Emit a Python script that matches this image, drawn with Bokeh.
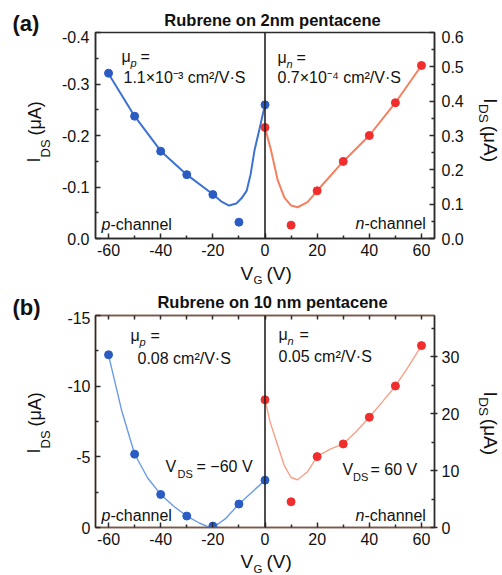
import math
from bokeh.plotting import figure
from bokeh.models import Range1d, LinearAxis, FixedTicker, PrintfTickFormatter, Label, Span
from bokeh.layouts import column, row
from bokeh.embed import file_html
from bokeh.resources import INLINE

# ---------------- data ----------------
vg_p = [-60, -50, -40, -30, -20, -10, 0]
vg_n = [0, 10, 20, 30, 40, 50, 60]

# panel (a): Rubrene on 2nm pentacene (uA)
a_ids_p = [-0.321, -0.2375, -0.1695, -0.124, -0.0854, -0.0317, -0.2596]
a_ids_n = [0.3236, 0.0389, 0.139, 0.2245, 0.300, 0.3955, 0.504]
a_fit_p_x = [-60, -50, -40, -30, -20, -16.5, -13.8, -11, -9, -7, -5.5, -4, -2, 0]
a_fit_p_y = [-0.32, -0.2375, -0.17, -0.124, -0.086, -0.071, -0.064, -0.068, -0.078, -0.093, -0.125, -0.172, -0.215, -0.26]
a_fit_n_x = [0, 2.3, 4.9, 7.4, 10, 12.5, 16.3, 20, 30, 40, 50, 60]
a_fit_n_y = [0.3236, 0.257, 0.169, 0.12, 0.096, 0.091, 0.106, 0.139, 0.2245, 0.300, 0.3955, 0.504]

# panel (b): Rubrene on 10 nm pentacene (uA)
b_ids_p = [-12.22, -5.19, -2.34, -0.81, -0.10, -1.66, -3.35]
b_ids_n = [22.47, 4.53, 12.47, 14.7, 19.4, 24.9, 32.0]
b_fit_p_x = [-60, -55, -50, -45, -40, -35, -30, -25, -21.5, -18, -15, -10, -5, 0]
b_fit_p_y = [-12.2, -8.3, -5.2, -3.5, -2.34, -1.5, -0.81, -0.3, -0.02, -0.25, -0.65, -1.66, -2.5, -3.35]
b_fit_n_x = [0, 2, 4.2, 7.4, 10, 12.5, 16.3, 20, 25, 30, 35, 40, 45, 50, 55, 60]
b_fit_n_y = [22.5, 18.5, 15.4, 10.9, 8.8, 8.4, 9.8, 12.5, 13.8, 14.7, 16.9, 19.4, 22.1, 24.9, 28.3, 32.0]

x_ticks = [-60, -40, -20, 0, 20, 40, 60]
x_minor = [-50, -30, -10, 10, 30, 50]
a_left_ticks = [-0.4, -0.3, -0.2, -0.1, 0.0]
a_left_minor = [-0.35, -0.25, -0.15, -0.05]
a_right_ticks = [0.0, 0.1, 0.2, 0.3, 0.4, 0.5, 0.6]
a_right_minor = [0.05, 0.15, 0.25, 0.35, 0.45, 0.55]
b_left_ticks = [-15, -10, -5, 0]
b_left_minor = [-12.5, -7.5, -2.5]
b_right_ticks = [0, 10, 20, 30]
b_right_minor = [5, 15, 25, 35]

FONT = "Liberation Sans"
DARK = "#2b2b2b"
TXT = "#111111"
BROWN = "#7a5844"
BLUE_DOT = "#2a5cc4"
RED_DOT = "#f22d2d"
SHIFT = 0.36  # em; correction so that (px, py) is the text baseline


def style_axis(ax, ticks, minor, fmt, tin=5, tout=0, standoff=6, color=DARK):
    ax.ticker = FixedTicker(ticks=ticks, minor_ticks=minor)
    ax.formatter = PrintfTickFormatter(format=fmt)
    ax.axis_line_color = color
    ax.axis_line_width = 1.5
    ax.major_tick_line_color = DARK
    ax.major_tick_line_width = 1.5
    ax.minor_tick_line_color = DARK
    ax.minor_tick_line_width = 1.5
    ax.major_tick_in = tin
    ax.major_tick_out = tout
    ax.minor_tick_in = 3
    ax.minor_tick_out = 0
    ax.major_label_text_font = FONT
    ax.major_label_text_font_size = "16px"
    ax.major_label_text_color = TXT
    ax.major_label_standoff = standoff


def main_fig(height, top, bottom):
    p = figure(width=415, height=height, output_backend="svg", toolbar_location=None,
               min_border_left=40, min_border_right=36, min_border_top=top, min_border_bottom=bottom)
    p.xgrid.visible = False
    p.ygrid.visible = False
    p.outline_line_color = DARK
    p.outline_line_width = 1.5
    return p


def text_fig(x0, y0, w, h):
    # a plain text strip; its data coordinates are the page pixels
    f = figure(width=w, height=h, x_range=Range1d(x0, x0 + w), y_range=Range1d(y0 + h, y0),
               output_backend="svg", toolbar_location=None, min_border=0,
               x_axis_location=None, y_axis_location=None)
    f.xgrid.visible = False
    f.ygrid.visible = False
    f.outline_line_color = None
    return f


def tlab(f, s, px, py, size=16, style="normal", align="left", angle=0.0):
    d = SHIFT * size
    px = px - d * math.sin(angle)
    py = py - d * math.cos(angle)
    f.add_layout(Label(x=px, y=py, text=s, text_font=FONT, text_font_size=f"{size}px",
                       text_font_style=style, text_align=align, text_baseline="alphabetic",
                       angle=angle, text_color=TXT))


def flab(p, s, px, py, fx0, fy1, size=16, style="normal", align="left"):
    py = py - SHIFT * size
    p.add_layout(Label(x=px - fx0, y=fy1 - py, x_units="screen", y_units="screen", text=s,
                       text_font=FONT, text_font_size=f"{size}px", text_font_style=style,
                       text_align=align, text_baseline="alphabetic", text_color=TXT))


def ylabel_left(f, y_i):
    tlab(f, "I", 40, y_i, size=18, angle=math.pi / 2)
    tlab(f, "DS", 50, y_i - 5, size=13, angle=math.pi / 2)
    tlab(f, "(\u03bcA)", 41, y_i - 27, size=18, angle=math.pi / 2)


def ylabel_right(f, y_i):
    tlab(f, "I", 483, y_i, size=19, angle=-math.pi / 2)
    tlab(f, "DS", 478.5, y_i + 6.5, size=13.5, angle=-math.pi / 2)
    tlab(f, "(\u03bcA)", 483, y_i + 31, size=19, angle=-math.pi / 2)


def xlabel(f, y_base):
    tlab(f, "V", 240, y_base, size=19)
    tlab(f, "G", 253, y_base + 4.5, size=11.5)
    tlab(f, "(V)", 266, y_base, size=19)


# ---------------- panel (a) ----------------
pa = main_fig(232, 2, 24)
pa.x_range = Range1d(-65, 65)
pa.y_range = Range1d(0, -0.4)
pa.extra_y_ranges = {"right": Range1d(0, 0.6)}
style_axis(pa.xaxis[0], x_ticks, x_minor, "%d", standoff=5)
style_axis(pa.yaxis[0], a_left_ticks, a_left_minor, "%.1f", standoff=6)
ra = LinearAxis(y_range_name="right")
style_axis(ra, a_right_ticks, a_right_minor, "%.1f", standoff=7)
pa.add_layout(ra, "right")

pa.add_layout(Span(location=0, dimension="height", line_color="#222222", line_width=1.6))
pa.line(a_fit_p_x, a_fit_p_y, line_color="#3d72d2", line_width=2)
pa.line(a_fit_n_x, a_fit_n_y, line_color="#f5805f", line_width=2, y_range_name="right")
pa.scatter(vg_p, a_ids_p, size=8, fill_color=BLUE_DOT, line_color=BLUE_DOT)
pa.scatter(vg_n, a_ids_n, size=8, fill_color=RED_DOT, line_color=RED_DOT, y_range_name="right")

ax0, ay1 = 95, 238
flab(pa, "\u03bc", 121, 62, ax0, ay1)
flab(pa, "p", 130, 66, ax0, ay1, size=11, style="italic")
flab(pa, "=", 140, 62, ax0, ay1)
flab(pa, "1.1\u00d710\u207b\u00b3 cm\u00b2/V\u00b7S", 123, 83, ax0, ay1)
flab(pa, "\u03bc", 277, 63, ax0, ay1)
flab(pa, "n", 286, 67, ax0, ay1, size=11, style="italic")
flab(pa, "=", 296, 63, ax0, ay1)
flab(pa, "0.7\u00d710\u207b\u2074 cm\u00b2/V\u00b7S", 277, 83, ax0, ay1)
flab(pa, "p", 101, 230, ax0, ay1, style="italic")
flab(pa, "-channel", 110, 230, ax0, ay1)
flab(pa, "n", 355, 229, ax0, ay1, style="italic")
flab(pa, "-channel", 364, 229, ax0, ay1)

left_a = text_fig(0, 0, 55, 290)
tlab(left_a, "(a)", 12, 31, size=22, style="bold")
ylabel_left(left_a, 162)
head_a = text_fig(55, 0, 447, 30)
tlab(head_a, "Rubrene on 2nm pentacene", 272, 25, size=16.5, style="bold", align="center")
right_a = text_fig(470, 30, 32, 232)
ylabel_right(right_a, 104)
foot_a = text_fig(55, 262, 447, 28)
xlabel(foot_a, 279.5)

# ---------------- panel (b) ----------------
pb = main_fig(240, 4, 24)
pb.outline_line_color = BROWN
pb.x_range = Range1d(-65, 65)
pb.y_range = Range1d(0, -15)
pb.extra_y_ranges = {"right": Range1d(0, 37.3)}
style_axis(pb.xaxis[0], x_ticks, x_minor, "%d", standoff=5, color=BROWN)
style_axis(pb.yaxis[0], b_left_ticks, b_left_minor, "%d", standoff=5)
rb = LinearAxis(y_range_name="right")
style_axis(rb, b_right_ticks, b_right_minor, "%d", tin=4, tout=3, standoff=4)
pb.add_layout(rb, "right")
tb = LinearAxis()
style_axis(tb, x_ticks, x_minor, "%d", tin=4, standoff=0, color=BROWN)
tb.minor_tick_in = 4
tb.major_label_text_font_size = "1px"
tb.major_label_overrides = {t: "" for t in x_ticks}
pb.add_layout(tb, "above")

pb.add_layout(Span(location=0, dimension="height", line_color="#222222", line_width=1.6))
pb.line(b_fit_p_x, b_fit_p_y, line_color="#6a9be6", line_width=1.4)
pb.line(b_fit_n_x, b_fit_n_y, line_color="#f7a088", line_width=1.4, y_range_name="right")
pb.scatter(vg_p, b_ids_p, size=8, fill_color=BLUE_DOT, line_color=BLUE_DOT)
pb.scatter(vg_n, b_ids_n, size=8, fill_color=RED_DOT, line_color=RED_DOT, y_range_name="right")

bx0, by1 = 95, 527
flab(pb, "\u03bc", 130, 341, bx0, by1)
flab(pb, "p", 139, 345, bx0, by1, size=11, style="italic")
flab(pb, "=", 150, 341, bx0, by1)
flab(pb, "0.08 cm\u00b2/V\u00b7S", 137, 364, bx0, by1)
flab(pb, "\u03bc", 278, 340, bx0, by1)
flab(pb, "n", 287, 344, bx0, by1, size=11, style="italic")
flab(pb, "=", 299, 340, bx0, by1)
flab(pb, "0.05 cm\u00b2/V\u00b7S", 278, 362, bx0, by1)
flab(pb, "V", 165, 472, bx0, by1)
flab(pb, "DS", 177, 477, bx0, by1, size=11)
flab(pb, "= \u221260 V", 196, 472, bx0, by1)
flab(pb, "V", 342, 475, bx0, by1)
flab(pb, "DS", 352.5, 480, bx0, by1, size=11)
flab(pb, "= 60 V", 370, 475, bx0, by1)
flab(pb, "p", 101, 521, bx0, by1, style="italic")
flab(pb, "-channel", 110, 521, bx0, by1)
flab(pb, "n", 355, 521, bx0, by1, style="italic")
flab(pb, "-channel", 364, 521, bx0, by1)

left_b = text_fig(0, 290, 55, 284)
tlab(left_b, "(b)", 12, 315, size=22, style="bold")
ylabel_left(left_b, 453)
head_b = text_fig(55, 290, 447, 21)
tlab(head_b, "Rubrene on 10 nm pentacene", 272, 307, size=16.5, style="bold", align="center")
right_b = text_fig(470, 311, 32, 240)
ylabel_right(right_b, 397)
foot_b = text_fig(55, 551, 447, 23)
xlabel(foot_b, 568)

sec_a = row(left_a, column(head_a, row(pa, right_a), foot_a))
sec_b = row(left_b, column(head_b, row(pb, right_b), foot_b))
layout = column(sec_a, sec_b)
open("out.html", "w").write(file_html(layout, INLINE))
